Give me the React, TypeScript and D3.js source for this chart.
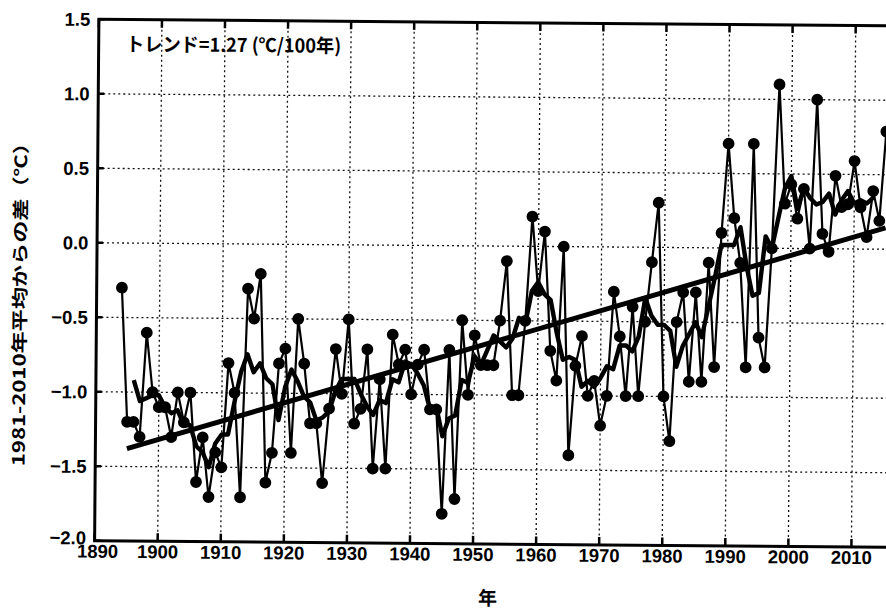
import React from "react";
import * as d3 from "d3";

const W = 886;
const H = 609;

// Annual anomaly (°C, relative to 1981-2010 mean), 1894 .. 2015
const firstYear = 1894;
const anomaly = [
  -0.3, -1.2, -1.2, -1.3, -0.6, -1.0,
  -1.1, -1.1, -1.3, -1.0, -1.2, -1.0, -1.6, -1.3, -1.7, -1.4,
  -1.5, -0.8, -1.0, -1.7, -0.3, -0.5, -0.2, -1.6, -1.4, -0.8,
  -0.7, -1.4, -0.5, -0.8, -1.2, -1.2, -1.6, -1.1, -0.7, -1.0,
  -0.5, -1.2, -1.1, -0.7, -1.5, -0.9, -1.5, -0.6, -0.8, -0.7,
  -1.0, -0.8, -0.7, -1.1, -1.1, -1.8, -0.7, -1.7, -0.5, -1.0,
  -0.6, -0.8, -0.8, -0.8, -0.5, -0.1, -1.0, -1.0, -0.5, 0.2,
  -0.3, 0.1, -0.7, -0.9, 0.0, -1.4, -0.8, -0.6, -1.0, -0.9,
  -1.2, -1.0, -0.3, -0.6, -1.0, -0.4, -1.0, -0.5, -0.1, 0.3,
  -1.0, -1.3, -0.5, -0.3, -0.9, -0.3, -0.9, -0.1, -0.8, 0.1,
  0.7, 0.2, -0.1, -0.8, 0.7, -0.6, -0.8, 0.0, 1.1, 0.3,
  0.43, 0.2, 0.4, 0.0, 1.0, 0.1, -0.02, 0.49, 0.28, 0.3,
  0.59, 0.28, 0.08, 0.39, 0.19, 0.79,
];

const trendPer100 = 1.27;
const trendStartYear = 1895;
const xTicks = [1890, 1900, 1910, 1920, 1930, 1940, 1950, 1960, 1970, 1980, 1990, 2000, 2010, 2020];
const yTicks = [-2.0, -1.5, -1.0, -0.5, 0.0, 0.5, 1.0, 1.5];

const yTitle = "1981-2010年平均からの差（℃）";
const xTitle = "年";
const trendLabel = "トレンド=1.27 (℃/100年)";

const numFont = "'Liberation Sans', Arial, Helvetica, sans-serif";
const jpFont = "'Noto Sans CJK JP', 'Noto Sans', sans-serif";

export default function App() {
  const years = d3.range(firstYear, firstYear + anomaly.length);
  const data = years.map((yr, i) => ({ yr, v: anomaly[i] }));

  const x = d3.scaleLinear().domain([1890, 2020]).range([96.6, 916.5]);
  const y = d3.scaleLinear().domain([-2, 1.5]).range([544, 22.5]);

  // 5-year centred running mean
  const rm = data.slice(2, data.length - 2).map((d, i) => ({
    yr: d.yr,
    v: d3.mean(anomaly.slice(i, i + 5)) as number,
  }));

  const meanYr = d3.mean(years) as number;
  const meanV = d3.mean(anomaly) as number;
  const slope = trendPer100 / 100;
  const lastYear = years[years.length - 1];
  const trend = [trendStartYear, lastYear].map((yr) => ({ yr, v: meanV + slope * (yr - meanYr) }));

  const line = d3
    .line<{ yr: number; v: number }>()
    .x((d) => x(d.yr))
    .y((d) => y(d.v));

  const [x0, x1] = x.range();
  const [yb, yt] = y.range();

  return (
    <svg
      width={W}
      height={H}
      viewBox={`0 0 ${W} ${H}`}
      style={{ position: "absolute", left: 0, top: 0, background: "#fff" }}
    >
      <rect x={0} y={0} width={W} height={H} fill="#fff" />
      <g transform="rotate(0.47 490 300)">
        {/* grid */}
        <g stroke="#111" strokeWidth={1.3} strokeDasharray="2,3" fill="none">
          {xTicks
            .filter((t) => t > 1890 && t < 2020)
            .map((t) => (
              <line key={"gx" + t} x1={x(t)} x2={x(t)} y1={yt} y2={yb} />
            ))}
          {yTicks
            .filter((t) => t > -2 && t < 1.5)
            .map((t) => (
              <line key={"gy" + t} x1={x0} x2={x1} y1={y(t)} y2={y(t)} />
            ))}
        </g>

        {/* ticks */}
        <g stroke="#000" strokeWidth={2.5}>
          {xTicks.map((t) => (
            <g key={"tx" + t}>
              <line x1={x(t)} x2={x(t)} y1={yb} y2={yb - 8} />
              <line x1={x(t)} x2={x(t)} y1={yt} y2={yt + 8} />
            </g>
          ))}
          {yTicks.map((t) => (
            <line key={"ty" + t} x1={x0} x2={x0 + 6} y1={y(t)} y2={y(t)} />
          ))}
        </g>

        {/* frame */}
        <rect x={x0} y={yt} width={x1 - x0} height={yb - yt} fill="none" stroke="#000" strokeWidth={3} />

        {/* series */}
        <path d={line(data) || ""} fill="none" stroke="#000" strokeWidth={2.2} strokeLinejoin="round" />
        <path d={line(rm) || ""} fill="none" stroke="#000" strokeWidth={4.4} strokeLinejoin="round" />
        <path d={line(trend) || ""} fill="none" stroke="#000" strokeWidth={5} />
        {data.map((d) => (
          <circle key={"c" + d.yr} cx={x(d.yr)} cy={y(d.v)} r={5.9} fill="#000" />
        ))}

        {/* tick labels */}
        <g fontFamily={numFont} fontWeight="bold" fontSize={18.5} fill="#000">
          {yTicks.map((t) => (
            <text key={"ly" + t} x={88} y={y(t) - (t === -2 ? 3 : 0)} dy="0.36em" textAnchor="end">
              {d3.format(".1f")(t)}
            </text>
          ))}
          {xTicks
            .filter((t) => t < 2020)
            .map((t) => (
              <text key={"lx" + t} x={x(t) + (t === 1890 ? 3 : 0)} y={561} textAnchor="middle">
                {t}
              </text>
            ))}
        </g>

        {/* titles */}
        <text
          x={490}
          y={605}
          textAnchor="middle"
          fontFamily={jpFont}
          fontWeight="bold"
          fontSize={19}
          fill="#000"
        >
          {xTitle}
        </text>
        <text
          transform="translate(26 303) rotate(-90)"
          textAnchor="middle"
          fontFamily={jpFont}
          fontWeight="bold"
          fontSize={17}
          fill="#000"
          textLength={334}
          lengthAdjust="spacingAndGlyphs"
        >
          {yTitle}
        </text>
        <text
          x={124}
          y={54}
          fontFamily={jpFont}
          fontWeight="bold"
          fontSize={19}
          fill="#000"
          textLength={215}
          lengthAdjust="spacingAndGlyphs"
        >
          {trendLabel}
        </text>
      </g>
    </svg>
  );
}
